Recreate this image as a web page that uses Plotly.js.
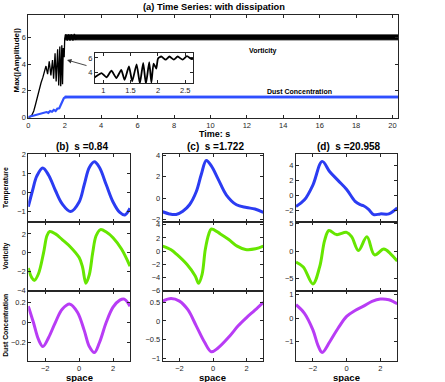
<!DOCTYPE html>
<html>
<head>
<meta charset="utf-8">
<script src="https://cdn.plot.ly/plotly-3.0.1.min.js"></script>
<style>
  html, body { margin: 0; padding: 0; background: #fff; }
  #plot { width: 445px; height: 382px; }
</style>
</head>
<body>
<div id="plot"></div>
<script>
// ---- time series (panel a) ----
const timeVort = [0, 0.1, 0.2, 0.3, 0.4, 0.5, 0.6, 0.7, 0.8, 0.87, 0.97, 1.06, 1.15, 1.24, 1.33, 1.39, 1.47, 1.53, 1.61, 1.67, 1.73, 1.78, 1.84, 1.88, 1.92, 1.97, 2.0, 2.06, 2.14, 2.21, 2.29, 2.36, 2.45, 2.53, 2.61, 2.66];
const maxVort  = [0, 0.05, 0.2, 0.5, 1.0, 1.6, 2.2, 2.6, 3.0, 3.4, 3.85, 3.25, 4.2, 3.15, 4.3, 2.9, 4.8, 2.7, 5.1, 2.4, 5.3, 2.35, 5.4, 2.5, 5.2, 4.5, 5.9, 6.2, 5.75, 6.2, 5.75, 6.2, 5.75, 6.25, 5.85, 5.9];
const timeDust = [0, 0.2, 0.4, 0.6, 0.8, 1.0, 1.1, 1.2, 1.3, 1.4, 1.5, 1.6, 1.7, 1.75, 1.8, 1.85, 1.9, 1.95, 2.0, 2.1];
const maxDust  = [0.05, 0.12, 0.2, 0.28, 0.35, 0.42, 0.36, 0.5, 0.44, 0.58, 0.5, 0.68, 0.7, 0.85, 1.0, 1.2, 1.35, 1.45, 1.5, 1.55];
// saturated regime after t = 2: fast oscillation drawn as its envelope
const bandTime  = [2.0, 20.3];
const vortUpper = [6.17, 6.17];
const vortLower = [5.8, 5.8];
const dustUpper = [1.61, 1.61];
const dustLower = [1.47, 1.47];

// ---- snapshots (panels b, c, d) ----
const xTempB = [-3, -2.75, -2.5, -2.15, -1.8, -1.4, -1.0, -0.5, 0, 0.3, 0.6, 0.9, 1.2, 1.6, 2.0, 2.4, 2.7, 3];
const tempB  = [-0.75, 0.1, 0.85, 1.28, 0.9, 0.1, -0.6, -1.0, -0.5, 0.4, 1.3, 1.6, 1.3, 0.4, -0.5, -1.05, -1.18, -0.83];
const xVortB = [-3, -2.8, -2.64, -2.4, -2.1, -1.9, -1.74, -1.4, -1.0, -0.5, 0, 0.2, 0.4, 0.6, 0.8, 1.0, 1.26, 1.6, 2.0, 2.5, 3];
const vortB  = [-1.6, -2.6, -2.9, -2.2, 0, 1.8, 2.25, 2.0, 1.4, 0.6, -0.5, -1.5, -3.2, -2.3, 0, 1.8, 2.45, 2.2, 1.6, 0.4, -1.4];
const xDustB = [-3, -2.7, -2.4, -2.14, -1.8, -1.4, -1.0, -0.54, -0.1, 0.3, 0.6, 0.9, 1.2, 1.6, 2.0, 2.4, 2.66, 3];
const dustB  = [0.16, 0.0, -0.17, -0.24, -0.15, 0.0, 0.13, 0.18, 0.1, -0.08, -0.24, -0.3, -0.2, 0.0, 0.15, 0.22, 0.23, 0.16];

const xTempC = [-3, -2.6, -2.2, -1.8, -1.4, -1.0, -0.7, -0.4, -0.1, 0.3, 0.8, 1.4, 2.0, 2.5, 3];
const tempC  = [-1.25, -1.45, -1.5, -1.2, -0.6, 0.6, 2.2, 3.5, 3.0, 1.8, 0.3, -0.6, -0.85, -1.0, -1.3];
const xVortC = [-3, -2.5, -2.16, -1.56, -1.06, -0.86, -0.65, -0.46, -0.25, -0.1, 0.44, 0.94, 1.44, 1.94, 2.54, 3];
const vortC  = [0.75, 0.2, -0.5, -2.0, -3.75, -4.85, -3.5, 0.25, 2.6, 3.35, 2.6, 1.75, 0.75, 0.25, 0.35, 0.75];
const xDustC = [-3, -2.5, -2.0, -1.5, -1.0, -0.5, -0.1, 0.3, 1.0, 1.5, 2.0, 2.5, 3];
const dustC  = [0.53, 0.6, 0.53, 0.3, -0.13, -0.57, -0.82, -0.72, -0.4, -0.13, 0.09, 0.29, 0.5];

const xTempD = [-3, -2.5, -2.0, -1.45, -1.0, -0.5, 0, 0.5, 0.8, 1.0, 1.3, 1.6, 2.0, 2.5, 3];
const tempD  = [-1.5, -0.6, 1.4, 4.6, 3.2, 2.0, 0.8, -0.8, -1.25, -1.4, -1.9, -2.6, -2.5, -2.5, -1.7];
const xVortD = [-3, -2.57, -2.0, -1.6, -1.3, -1.05, -0.6, 0, 0.3, 0.7, 1.2, 1.65, 2.2, 2.6, 3];
const vortD  = [-2.0, -2.9, -6.0, -2.9, 2.0, 3.75, 3.0, 3.4, 2.6, 0.1, 2.6, -0.7, 0.35, -0.5, -1.85];
const xDustD = [-3, -2.5, -2.0, -1.7, -1.45, -1.0, -0.5, 0, 0.5, 1.0, 1.5, 2.0, 2.5, 3];
const dustD  = [0.56, 0.2, -0.5, -1.15, -1.45, -1.0, -0.42, 0.07, 0.32, 0.5, 0.7, 0.8, 0.77, 0.6];

const panelTitles = ['(b)&nbsp; s =0.84', '(c)&nbsp; s =1.722', '(d)&nbsp; s =20.958'];
const rowNames = ['Temperature', 'Vorticity', 'Dust Concentration'];
const rowColors = ['#2b3cf2', '#66e600', '#b83cf5'];

const FONT = 'Liberation Sans, Arial, sans-serif';
const AX = '#262626';

function axis(domain, range, extra) {
    return Object.assign({
        domain: domain, range: range,
        showline: true, mirror: 'ticks', linecolor: AX, linewidth: 1,
        ticks: 'inside', ticklen: 3, tickwidth: 1, tickcolor: AX,
        showgrid: false, zeroline: false,
        tickfont: { family: FONT, size: 7.5, color: AX }
    }, extra);
}

// centred text in paper coordinates
function label(x, y, text, size, angle) {
    return { xref: 'paper', yref: 'paper', x: x, y: y, xanchor: 'center', yanchor: 'middle',
        text: '<b>' + text + '</b>', showarrow: false, textangle: angle || 0,
        font: { family: FONT, size: size, color: '#000' } };
}

const data = [];
const layout = {
    width: 445, height: 382,
    margin: { l: 0, r: 0, t: 0, b: 0 },
    paper_bgcolor: '#fff', plot_bgcolor: '#fff',
    showlegend: false,
    font: { family: FONT, color: '#000' },
    annotations: [], shapes: []
};

// panel (a)
layout.xaxis = axis([0.0636, 0.8944], [0, 20.3], { dtick: 2, anchor: 'y' });
layout.yaxis = axis([0.6919, 0.9607], [0, 7.65], { tickvals: [0, 2, 4, 6], anchor: 'x' });

data.push({ x: bandTime, y: vortLower, xaxis: 'x', yaxis: 'y', mode: 'lines', line: { color: '#000', width: 1 }, hoverinfo: 'skip' });
data.push({ x: bandTime, y: vortUpper, xaxis: 'x', yaxis: 'y', mode: 'lines', fill: 'tonexty', fillcolor: '#000', line: { color: '#000', width: 1 }, hoverinfo: 'skip' });
data.push({ x: bandTime, y: dustLower, xaxis: 'x', yaxis: 'y', mode: 'lines', line: { color: '#3050ff', width: 1 }, hoverinfo: 'skip' });
data.push({ x: bandTime, y: dustUpper, xaxis: 'x', yaxis: 'y', mode: 'lines', fill: 'tonexty', fillcolor: '#3050ff', line: { color: '#3050ff', width: 1 }, hoverinfo: 'skip' });
data.push({ x: timeVort, y: maxVort, xaxis: 'x', yaxis: 'y', mode: 'lines', line: { color: '#000', width: 1.3 } });
data.push({ x: timeDust, y: maxDust, xaxis: 'x', yaxis: 'y', mode: 'lines', line: { color: '#3050ff', width: 2.2 } });

// inset
const insetX = [0.85, 2.64];
const insetY = [2.45, 6.7];
layout.xaxis2 = axis([0.2135, 0.4337], insetX, { tickvals: [1, 1.5, 2, 2.5], anchor: 'y2' });
layout.yaxis2 = axis([0.7827, 0.8613], insetY, { tickvals: [4, 6], anchor: 'x2' });
layout.shapes.push({ type: 'rect', xref: 'x2', yref: 'y2', layer: 'below',
    x0: insetX[0], x1: insetX[1], y0: insetY[0], y1: insetY[1],
    fillcolor: '#fff', line: { width: 0 } });
data.push({ x: timeVort, y: maxVort, xaxis: 'x2', yaxis: 'y2', mode: 'lines',
    line: { color: '#000', width: 1.8, shape: 'spline', smoothing: 0.5 } });

// snapshots
const colDomains = [[0.0636, 0.2921], [0.3656, 0.5917], [0.6652, 0.8928]];
const rowDomains = [[0.4188, 0.5969], [0.2382, 0.4188], [0.0558, 0.2382]];
const series = [
    [[xTempB, tempB], [xVortB, vortB], [xDustB, dustB]],
    [[xTempC, tempC], [xVortC, vortC], [xDustC, dustC]],
    [[xTempD, tempD], [xVortD, vortD], [xDustD, dustD]]
];
const yRanges = [
    [[-1.55, 2.01], [-4.02, 3.25], [-0.38, 0.31]],
    [[-2.2, 4.1], [-6.03, 4.4], [-1.06, 0.8]],
    [[-3.6, 5.6], [-7.3, 5.3], [-1.8, 1.14]]
];
const yTicks = [
    [[-1, 0, 1, 2], [-4, -2, 0, 2], [-0.2, 0, 0.2]],
    [[-2, 0, 2, 4], [-6, -4, -2, 0, 2, 4], [-1, -0.5, 0, 0.5]],
    [[-2, 0, 2, 4], [-5, 0, 5], [-1, 0, 1]]
];

for (let c = 0; c < 3; c++) {
    for (let r = 0; r < 3; r++) {
        const k = 3 + c * 3 + r;
        layout['xaxis' + k] = axis(colDomains[c], [-3, 3], {
            tickvals: [-2, 0, 2], anchor: 'y' + k, showticklabels: r === 2
        });
        layout['yaxis' + k] = axis(rowDomains[r], yRanges[c][r], {
            tickvals: yTicks[c][r], anchor: 'x' + k
        });
        data.push({
            x: series[c][r][0], y: series[c][r][1],
            xaxis: 'x' + k, yaxis: 'y' + k, mode: 'lines',
            line: { color: rowColors[r], width: 3, shape: 'spline', smoothing: 1 }
        });
    }
    const cx = (colDomains[c][0] + colDomains[c][1]) / 2;
    layout.annotations.push(label(cx + 0.006, 1 - 146 / 382, panelTitles[c], 10));
    layout.annotations.push(label(cx, 1 - 377 / 382, 'space', 9.5));
}

for (let r = 0; r < 3; r++) {
    const cy = (rowDomains[r][0] + rowDomains[r][1]) / 2;
    layout.annotations.push(label(6 / 445, cy, rowNames[r], 6.8, -90));
}

// panel (a) texts
layout.annotations.push(
    label(214 / 445, 1 - 7.5 / 382, '(a) Time Series: with dissipation', 9.3),
    label(214.5 / 445, 1 - 134 / 382, 'Time: s', 9),
    label(15.5 / 445, 1 - 60 / 382, 'Max(|Amplitude|)', 8, -90),
    label(263 / 445, 1 - 51 / 382, 'Vorticity', 7),
    label(299 / 445, 1 - 91 / 382, 'Dust Concentration', 7),
    { xref: 'paper', yref: 'paper', x: 67 / 445, y: 1 - 60 / 382, text: '', showarrow: true,
      ax: 21, ay: 6, arrowhead: 2, arrowsize: 1, arrowwidth: 0.9, arrowcolor: '#333' }
);

Plotly.newPlot('plot', data, layout, { staticPlot: true });
</script>
</body>
</html>
